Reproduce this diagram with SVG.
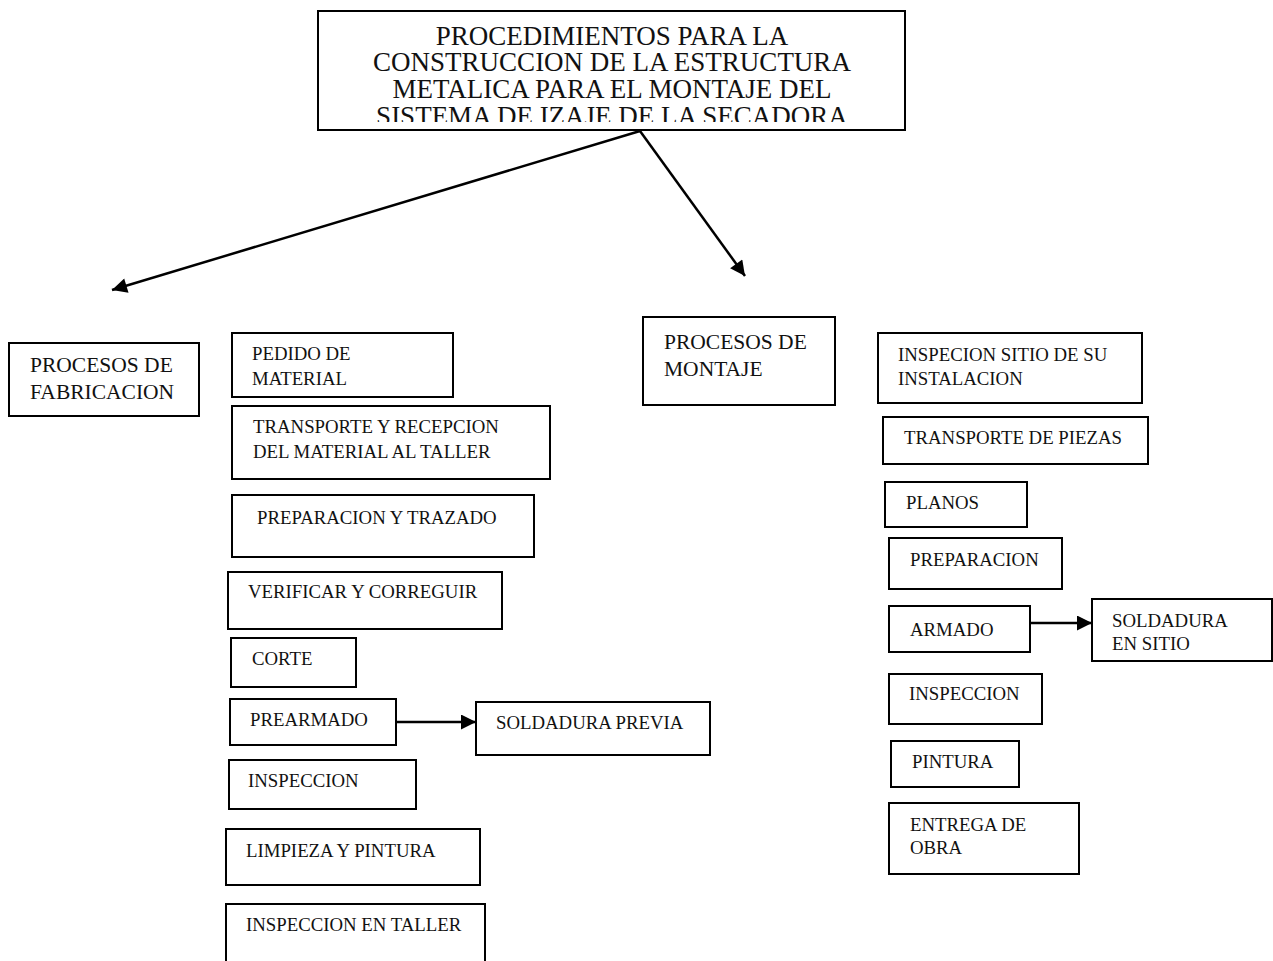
<svg xmlns="http://www.w3.org/2000/svg" width="1273" height="961" viewBox="0 0 1273 961">
<style>
  rect.box { fill: #fff; stroke: #000; stroke-width: 2; }
  text { font-family: "Liberation Serif", "Times New Roman", serif; fill: #111; }
  .t { font-size: 27px; text-anchor: middle; }
  .m { font-size: 21.5px; }
  .s { font-size: 18.8px; }
  .c line { stroke: #000; stroke-width: 2.5; }
</style>
<defs>
  <marker id="ah" viewBox="0 0 10 10" refX="10" refY="5" markerWidth="7" markerHeight="6" markerUnits="strokeWidth" orient="auto">
    <path d="M0,0 L10,5 L0,10 z" fill="#000"/>
  </marker>
  <clipPath id="titleclip"><rect x="319" y="12" width="585" height="110"/></clipPath>
</defs>
<rect width="1273" height="961" fill="#fff"/>

<g id="title">
  <rect class="box" x="318" y="11" width="587" height="119"/>
  <g clip-path="url(#titleclip)">
    <text class="t" x="612" y="45">PROCEDIMIENTOS PARA LA</text>
    <text class="t" x="612" y="71">CONSTRUCCION DE LA ESTRUCTURA</text>
    <text class="t" x="612" y="98">METALICA PARA EL MONTAJE DEL</text>
    <text class="t" x="612" y="125">SISTEMA DE IZAJE DE LA SECADORA</text>
  </g>
</g>

<g id="connectors" class="c">
  <line x1="640" y1="131" x2="112" y2="290" marker-end="url(#ah)"/>
  <line x1="640" y1="131" x2="745" y2="276" marker-end="url(#ah)"/>
  <line x1="396" y1="722" x2="476" y2="722" marker-end="url(#ah)"/>
  <line x1="1030" y1="623" x2="1092" y2="623" marker-end="url(#ah)"/>
</g>

<g id="fabricacion">
  <rect class="box" x="9" y="343" width="190" height="73"/>
  <text class="m" x="30" y="372">PROCESOS DE</text>
  <text class="m" x="30" y="399">FABRICACION</text>
</g>
<g id="pedido">
  <rect class="box" x="232" y="333" width="221" height="64"/>
  <text class="s" x="252" y="360">PEDIDO DE</text>
  <text class="s" x="252" y="385">MATERIAL</text>
</g>
<g id="transporte">
  <rect class="box" x="232" y="406" width="318" height="73"/>
  <text class="s" x="253" y="433">TRANSPORTE Y RECEPCION</text>
  <text class="s" x="253" y="458">DEL MATERIAL AL TALLER</text>
</g>
<g id="preparacion-trazado">
  <rect class="box" x="232" y="495" width="302" height="62"/>
  <text class="s" x="257" y="524">PREPARACION Y TRAZADO</text>
</g>
<g id="verificar">
  <rect class="box" x="228" y="572" width="274" height="57"/>
  <text class="s" x="248" y="598">VERIFICAR Y CORREGUIR</text>
</g>
<g id="corte">
  <rect class="box" x="231" y="638" width="125" height="49"/>
  <text class="s" x="252" y="665">CORTE</text>
</g>
<g id="prearmado">
  <rect class="box" x="230" y="699" width="166" height="46"/>
  <text class="s" x="250" y="726">PREARMADO</text>
</g>
<g id="soldadura-previa">
  <rect class="box" x="476" y="702" width="234" height="53"/>
  <text class="s" x="496" y="729">SOLDADURA PREVIA</text>
</g>
<g id="inspeccion-fab">
  <rect class="box" x="229" y="760" width="187" height="49"/>
  <text class="s" x="248" y="787">INSPECCION</text>
</g>
<g id="limpieza">
  <rect class="box" x="226" y="829" width="254" height="56"/>
  <text class="s" x="246" y="857">LIMPIEZA Y PINTURA</text>
</g>
<g id="inspeccion-taller">
  <rect class="box" x="226" y="904" width="259" height="70"/>
  <text class="s" x="246" y="931">INSPECCION EN TALLER</text>
</g>

<g id="montaje">
  <rect class="box" x="643" y="317" width="192" height="88"/>
  <text class="m" x="664" y="349">PROCESOS DE</text>
  <text class="m" x="664" y="376">MONTAJE</text>
</g>
<g id="inspecion-sitio">
  <rect class="box" x="878" y="333" width="264" height="70"/>
  <text class="s" x="898" y="361">INSPECION SITIO DE SU</text>
  <text class="s" x="898" y="385">INSTALACION</text>
</g>
<g id="transporte-piezas">
  <rect class="box" x="883" y="417" width="265" height="47"/>
  <text class="s" x="904" y="444">TRANSPORTE DE PIEZAS</text>
</g>
<g id="planos">
  <rect class="box" x="885" y="482" width="142" height="45"/>
  <text class="s" x="906" y="509">PLANOS</text>
</g>
<g id="preparacion">
  <rect class="box" x="889" y="538" width="173" height="51"/>
  <text class="s" x="910" y="566">PREPARACION</text>
</g>
<g id="armado">
  <rect class="box" x="889" y="606" width="141" height="46"/>
  <text class="s" x="910" y="636">ARMADO</text>
</g>
<g id="soldadura-sitio">
  <rect class="box" x="1092" y="599" width="180" height="62"/>
  <text class="s" x="1112" y="627">SOLDADURA</text>
  <text class="s" x="1112" y="650">EN SITIO</text>
</g>
<g id="inspeccion-mont">
  <rect class="box" x="889" y="674" width="153" height="50"/>
  <text class="s" x="909" y="700">INSPECCION</text>
</g>
<g id="pintura">
  <rect class="box" x="891" y="741" width="128" height="46"/>
  <text class="s" x="912" y="768">PINTURA</text>
</g>
<g id="entrega">
  <rect class="box" x="889" y="803" width="190" height="71"/>
  <text class="s" x="910" y="831">ENTREGA DE</text>
  <text class="s" x="910" y="854">OBRA</text>
</g>
</svg>
